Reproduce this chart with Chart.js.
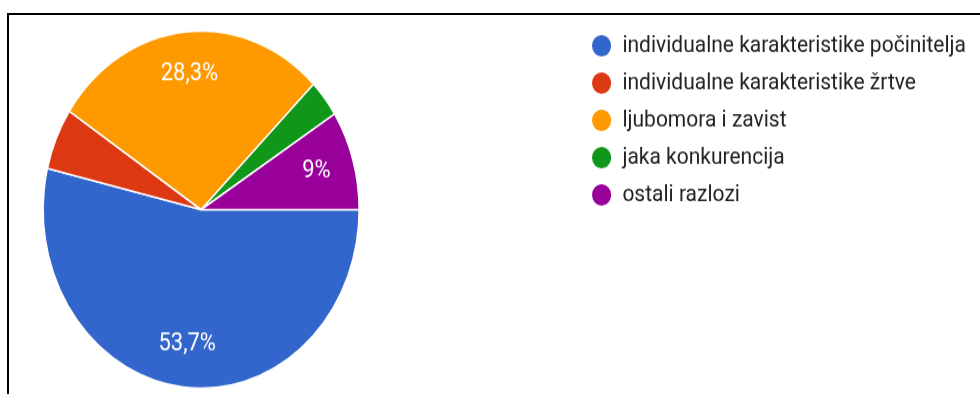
<!DOCTYPE html>
<html><head><meta charset="utf-8">
<script src="https://cdn.jsdelivr.net/npm/chart.js@4"></script>
<style>
html,body{margin:0;padding:0;background:#fff;width:980px;height:394px;overflow:hidden;position:relative}
#wrap{position:absolute;left:-177px;top:0;width:1157px;height:360px;transform:scaleY(1.13);transform-origin:0 0}
#frame{position:absolute;left:7px;top:13px;width:1000px;height:400px;border-top:2px solid #000;border-left:2px solid #000;pointer-events:none}
</style></head><body>
<div id="wrap"><canvas id="c" width="1157" height="360"></canvas></div>
<div id="frame"></div>
<script>
const categories = [
  'individualne karakteristike počinitelja',
  'individualne karakteristike žrtve',
  'ljubomora i zavist',
  'jaka konkurencija',
  'ostali razlozi'
];
const values = [53.7, 5.6, 28.3, 3.4, 9.0];
const colors = ['#3366cc', '#dc3912', '#ff9900', '#109618', '#990099'];

function formatPct(p) {
  let s = p.toFixed(1);
  if (s.endsWith('.0')) s = s.slice(0, -2);
  return s.replace('.', ',') + '%';
}

const sliceLabels = {
  id: 'sliceLabels',
  afterDatasetsDraw(chart) {
    const meta = chart.getDatasetMeta(0);
    const data = chart.data.datasets[0].data;
    const total = data.reduce((a, b) => a + b, 0);
    const ctx = chart.ctx;
    ctx.save();
    ctx.font = '22px Roboto';
    ctx.fillStyle = '#ffffff';
    ctx.textAlign = 'center';
    ctx.textBaseline = 'middle';
    meta.data.forEach((arc, i) => {
      const pct = data[i] / total * 100;
      if (pct < 7) return;
      const p = arc.getProps(['x', 'y', 'startAngle', 'endAngle', 'outerRadius'], true);
      const mid = (p.startAngle + p.endAngle) / 2;
      const r = p.outerRadius * 0.76;
      ctx.fillText(formatPct(pct), p.x + Math.cos(mid) * r, p.y + Math.sin(mid) * r);
    });
    ctx.restore();
  }
};

new Chart(document.getElementById('c'), {
  type: 'pie',
  data: {
    labels: categories,
    datasets: [{
      data: values,
      backgroundColor: colors,
      borderColor: '#ffffff',
      borderWidth: 1.5,
      radius: 158,
      rotation: 90
    }]
  },
  options: {
    responsive: false,
    maintainAspectRatio: false,
    animation: false,
    events: [],
    layout: { padding: { top: 18, right: 4, bottom: 7, left: 0 } },
    plugins: {
      tooltip: { enabled: false },
      legend: {
        position: 'right',
        align: 'start',
        labels: {
          usePointStyle: true,
          pointStyle: 'circle',
          boxHeight: 14.6,
          pointStyleWidth: 20.6,
          padding: 12,
          color: '#222222',
          font: { family: 'Roboto', size: 21 }
        }
      }
    }
  },
  plugins: [sliceLabels]
});
</script>
</body></html>
